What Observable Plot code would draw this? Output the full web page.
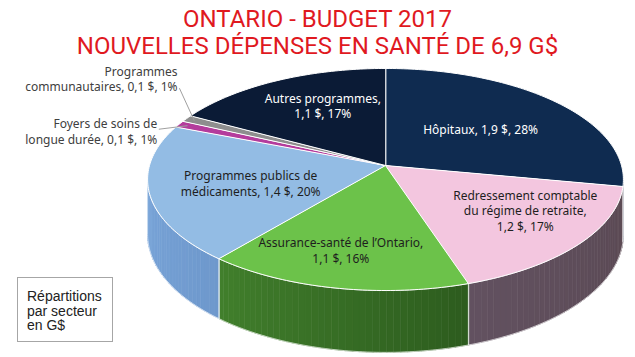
<!DOCTYPE html>
<html><head><meta charset="utf-8">
<script src="https://cdn.jsdelivr.net/npm/d3@7"></script>
<script src="https://cdn.jsdelivr.net/npm/@observablehq/plot@0.6"></script>
<style>
body{margin:0;background:#fff;}
#wrap{position:relative;width:635px;height:357px;overflow:hidden;background:#fff;}
#title{position:absolute;left:0;top:6px;width:635px;text-align:center;font-family:Roboto,sans-serif;color:#e0191f;font-size:24px;line-height:27px;}
#box{position:absolute;left:17px;top:277px;width:96px;height:65px;border:1px solid #a6a6a6;box-sizing:border-box;font-family:"Liberation Sans",Arial,sans-serif;font-size:14px;line-height:14.5px;padding:11px 0 0 9px;color:#222;}
#chart{position:absolute;left:0;top:0;}
</style></head>
<body>
<div id="wrap">
<div id="chart"></div>
<div id="title">ONTARIO - BUDGET 2017<br>NOUVELLES DÉPENSES EN SANTÉ DE 6,9 G$</div>
<div id="box">Répartitions<br>par secteur<br>en G$</div>
</div>
<script>
// ---- data ----
const categories = ["Hôpitaux", "Redressement comptable\ndu régime de retraite", "Assurance-santé de l’Ontario", "Programmes publics de\nmédicaments", "Foyers de soins de\nlongue durée", "Programmes\ncommunautaires", "Autres programmes"];
const amounts = [1.9, 1.2, 1.1, 1.4, 0.1, 0.1, 1.1];
const percents = [28, 17, 16, 20, 1, 1, 17];

// ---- styles / layout ----
const topColors = ["#0f2b50", "#f3c6df", "#6cc24a", "#93bce4", "#b43c9c", "#8e8e8e", "#0b1b36"];
const sideDark  = ["#0a1f3b", "#5a4953", "#2d5c1e", "#6e98cc", "#7a2668", "#5e5e5e", "#081429"];
const sideLight = ["#0c2444", "#625160", "#417f2c", "#7aa6da", "#8a2c76", "#6a6a6a", "#0a1830"];
const breakAfterName = [false, true, true, false, false, false, true];
const outside = [false, false, false, false, true, true, false];
const labelColors = ["#ffffff", "#1e1e1e", "#1e1e1e", "#1e1e1e", "#404040", "#404040", "#ffffff"];
// pixel nudges for labels [dx, dy]; for outside labels, offsets relative to slice edge
const labelNudge = [[-9, 3], [28, -1], [-16, 15], [5, 1], [-22, 7], [-9, -40], [5, -7]];
const leaderNudge = [null, null, null, null, [-20, 5], [-7, -30], null];

const W = 635, H = 357, PX = 236, CX = 385, CY = 165;
const K = 0.126, TILT = 0.463, DEPTH = 0.229;

function proj(theta, r, h) {
  const a = theta * Math.PI / 180;
  const u = r * Math.sin(a), w = r * Math.cos(a);
  const den = 1 + K * w;
  return [u / den, (TILT * w - h) / den];
}

const total = d3.sum(percents);
const starts = [0, ...d3.cumsum(percents)].map(v => v / total * 360);
const slices = percents.map((p, i) => ({i, a0: starts[i], a1: starts[i + 1], mid: (starts[i] + starts[i + 1]) / 2}));

function arcPts(a0, a1, r, h) {
  const n = Math.max(2, Math.ceil((a1 - a0) / 1));
  return d3.range(n + 1).map(j => proj(a0 + (a1 - a0) * j / n, r, h));
}

// top faces
const topPolys = [];
for (const s of slices) {
  const pts = [proj(0, 0, 0), ...arcPts(s.a0, s.a1, 1, 0)];
  pts.forEach(([x, y]) => topPolys.push({id: "t" + s.i, x, y, fill: topColors[s.i]}));
}

// sides (front visible part)
const silLo = Math.acos(-K) * 180 / Math.PI, silHi = 360 - silLo;
const sideStrips = [], sideOutlines = [];
for (const s of slices) {
  const lo = Math.max(s.a0, silLo), hi = Math.min(s.a1, silHi);
  if (lo >= hi) continue;
  const n = Math.max(1, Math.ceil((hi - lo) / 1.5));
  const col = d3.interpolateRgb(sideDark[s.i], sideLight[s.i]);
  for (let j = 0; j < n; j++) {
    const t0 = lo + (hi - lo) * j / n, t1 = lo + (hi - lo) * (j + 1) / n;
    const f = col((j + 0.5) / n);
    [proj(t0, 1, 0), proj(t1, 1, 0), proj(t1, 1, DEPTH), proj(t0, 1, DEPTH)]
      .forEach(([x, y]) => sideStrips.push({id: `s${s.i}_${j}`, x, y, fill: f}));
  }
  const outline = [...arcPts(lo, hi, 1, 0), ...arcPts(lo, hi, 1, DEPTH).reverse()];
  outline.forEach(([x, y]) => sideOutlines.push({id: "o" + s.i, x, y}));
}

// labels
const fmt = v => String(v.toFixed(1)).replace(".", ",");
const insideLabels = [], outsideLabels = [], leaders = [];
for (const s of slices) {
  const text = categories[s.i] + "," + (breakAfterName[s.i] ? "\n" : " ") + fmt(amounts[s.i]) + " $, " + percents[s.i] + "%";
  const [nx, ny] = labelNudge[s.i];
  if (!outside[s.i]) {
    const [x, y] = proj(s.mid, 0.6, 0);
    insideLabels.push({x: x + nx / PX, y: y - ny / PX, text, fill: labelColors[s.i]});
  } else {
    const [ex, ey] = proj(s.mid, 1, 0);
    outsideLabels.push({x: ex + nx / PX, y: ey - ny / PX, text, fill: labelColors[s.i]});
    const [ix, iy] = proj(s.mid, 0.96, 0);
    const [lx, ly] = leaderNudge[s.i];
    leaders.push({id: "l" + s.i, x: ix, y: iy});
    leaders.push({id: "l" + s.i, x: ex + lx / PX, y: ey - ly / PX});
  }
}

const chart = Plot.plot({
  width: W, height: H,
  margin: 0,
  x: {domain: [-CX / PX, (W - CX) / PX], axis: null},
  y: {domain: [-(H - CY) / PX, CY / PX], axis: null},
  color: {type: "identity"},
  style: {background: "transparent", overflow: "visible"},
  marks: [
    Plot.line(sideStrips, {x: "x", y: "y", z: "id", fill: "fill", stroke: "fill", strokeWidth: 0.7, curve: "linear-closed"}),
    Plot.line(sideOutlines, {x: "x", y: "y", z: "id", fill: "none", stroke: "#ffffff", strokeWidth: 0.8, strokeOpacity: 0.8, curve: "linear-closed"}),
    Plot.line(topPolys, {x: "x", y: "y", z: "id", fill: "fill", stroke: "#ffffff", strokeWidth: 1, curve: "linear-closed"}),
    Plot.line(leaders, {x: "x", y: "y", z: "id", stroke: "#a0a0a0", strokeWidth: 1}),
    Plot.text(insideLabels, {x: "x", y: "y", text: "text", fill: "fill", fontSize: 12, lineHeight: 1.3, fontFamily: "Noto Sans", textAnchor: "middle"}),
    Plot.text(outsideLabels, {x: "x", y: "y", text: "text", fill: "fill", fontSize: 12, lineHeight: 1.3, fontFamily: "Noto Sans", textAnchor: "end"})
  ]
});
document.getElementById("chart").appendChild(chart);
</script>
</body></html>
